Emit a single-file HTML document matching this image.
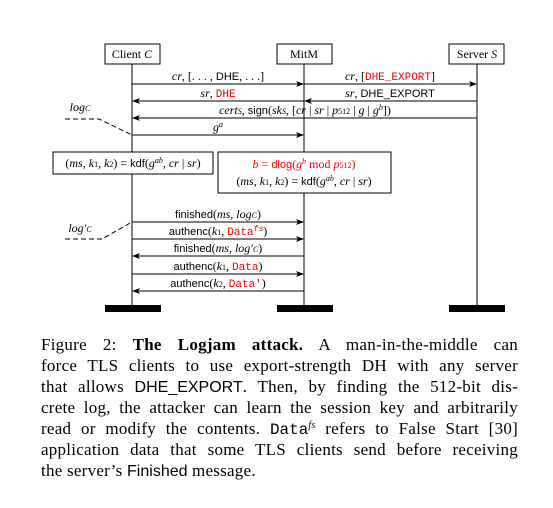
<!DOCTYPE html>
<html><head><meta charset="utf-8"><style>
body{margin:0;background:#fff;width:553px;height:508px;overflow:hidden;position:relative;font-family:"Liberation Serif",serif}
svg text{font-family:"Liberation Serif",serif;font-size:12px}
.sf{font-family:"Liberation Sans",sans-serif;font-size:11px}
.tt{font-family:"Liberation Mono",monospace;font-size:11px}
.r{fill:#e00}
.cap{position:absolute;left:41px;width:477px;height:21px;font-size:17px;letter-spacing:0.25px;line-height:21px;text-align:justify;text-align-last:justify;white-space:nowrap;color:#000}
.cap .sf,.cap .tt{font-size:16px;letter-spacing:0}
.sup{position:relative;top:-6px;font-size:10px;font-style:italic;line-height:0}
</style></head><body>
<svg width="553" height="320" style="position:absolute;left:0;top:0">
<defs><marker id="a" markerWidth="8" markerHeight="6" refX="7" refY="3" orient="auto"><path d="M0,0L8,3L0,6L2,3z" fill="#000"/></marker></defs>
<g stroke="#000" stroke-width="1" fill="none">
<line x1="132" y1="64" x2="132" y2="306"/><line x1="304" y1="64" x2="304" y2="306"/><line x1="477" y1="64" x2="477" y2="306"/>
<rect x="105" y="44" width="55" height="20" fill="#fff"/><rect x="277" y="44" width="55" height="20" fill="#fff"/><rect x="449" y="44" width="55" height="20" fill="#fff"/>
<g marker-end="url(#a)">
<line x1="132" y1="84" x2="303" y2="84"/><line x1="304" y1="84" x2="476" y2="84"/>
<line x1="304" y1="101" x2="133" y2="101"/><line x1="477" y1="101" x2="305" y2="101"/>
<line x1="477" y1="118" x2="133" y2="118"/><line x1="132" y1="135" x2="303" y2="135"/>
<line x1="132" y1="222" x2="303" y2="222"/><line x1="132" y1="239" x2="303" y2="239"/>
<line x1="304" y1="256" x2="133" y2="256"/><line x1="132" y1="274" x2="303" y2="274"/>
<line x1="304" y1="291" x2="133" y2="291"/></g>
<path d="M65,119H99L132,135" stroke-dasharray="5,3"/><path d="M65,239H102L132,222" stroke-dasharray="5,3"/>
<rect x="53" y="152" width="160" height="22" fill="#fff"/><rect x="218" y="152" width="173" height="41" fill="#fff"/>
</g>
<g fill="#000" stroke="none"><rect x="105" y="305" width="56" height="7"/><rect x="277" y="305" width="56" height="7"/><rect x="449" y="305" width="56" height="7"/></g>
<g text-anchor="middle">
<text x="132" y="58">Client <tspan font-style="italic">C</tspan></text>
<text x="304" y="58">MitM</text>
<text x="477" y="58">Server <tspan font-style="italic">S</tspan></text>
<text x="218" y="80"><tspan font-style="italic">cr</tspan>, [. . . , <tspan class="sf">DHE</tspan>, . . .]</text>
<text x="390" y="80"><tspan font-style="italic">cr</tspan>, [<tspan class="tt r">DHE_EXPORT</tspan>]</text>
<text x="218" y="97"><tspan font-style="italic">sr</tspan>, <tspan class="tt r">DHE</tspan></text>
<text x="390" y="97"><tspan font-style="italic">sr</tspan>, <tspan class="sf">DHE_EXPORT</tspan></text>
<text x="305" y="114"><tspan font-style="italic">cert<tspan font-size="8">S</tspan></tspan>, <tspan class="sf">sign</tspan>(<tspan font-style="italic">sk<tspan font-size="8">S</tspan></tspan>, [<tspan font-style="italic">cr</tspan> | <tspan font-style="italic">sr</tspan> | <tspan font-style="italic">p</tspan><tspan font-size="8">512</tspan> | <tspan font-style="italic">g</tspan> | <tspan font-style="italic">g<tspan font-size="8" dy="-4">b</tspan></tspan><tspan dy="4">])</tspan></text>
<text x="218" y="131" font-style="italic">g<tspan font-size="8" dy="-4">a</tspan></text>
<text x="133" y="167">(<tspan font-style="italic">ms, k</tspan><tspan font-size="8">1</tspan>, <tspan font-style="italic">k</tspan><tspan font-size="8">2</tspan>) = <tspan class="sf">kdf</tspan>(<tspan font-style="italic">g</tspan><tspan font-size="8" dy="-4" font-style="italic">ab</tspan><tspan dy="4">, </tspan><tspan font-style="italic">cr</tspan> | <tspan font-style="italic">sr</tspan>)</text>
<text x="304" y="168" class="r"><tspan font-style="italic">b</tspan> = <tspan class="sf">dlog</tspan>(<tspan font-style="italic">g</tspan><tspan font-size="8" dy="-4" font-style="italic">b</tspan><tspan dy="4"> mod </tspan><tspan font-style="italic">p</tspan><tspan font-size="8">512</tspan>)</text>
<text x="304" y="185">(<tspan font-style="italic">ms, k</tspan><tspan font-size="8">1</tspan>, <tspan font-style="italic">k</tspan><tspan font-size="8">2</tspan>) = <tspan class="sf">kdf</tspan>(<tspan font-style="italic">g</tspan><tspan font-size="8" dy="-4" font-style="italic">ab</tspan><tspan dy="4">, </tspan><tspan font-style="italic">cr</tspan> | <tspan font-style="italic">sr</tspan>)</text>
<text x="218" y="218"><tspan class="sf">finished</tspan>(<tspan font-style="italic">ms, log<tspan font-size="8">C</tspan></tspan>)</text>
<text x="218" y="235"><tspan class="sf">authenc</tspan>(<tspan font-style="italic">k</tspan><tspan font-size="8">1</tspan>, <tspan class="tt r">Data<tspan font-size="8" dy="-4" font-style="italic">fs</tspan></tspan><tspan dy="4">)</tspan></text>
<text x="218" y="252"><tspan class="sf">finished</tspan>(<tspan font-style="italic">ms, log′<tspan font-size="8">C</tspan></tspan>)</text>
<text x="218" y="270"><tspan class="sf">authenc</tspan>(<tspan font-style="italic">k</tspan><tspan font-size="8">1</tspan>, <tspan class="tt r">Data</tspan>)</text>
<text x="218" y="287"><tspan class="sf">authenc</tspan>(<tspan font-style="italic">k</tspan><tspan font-size="8">2</tspan>, <tspan class="tt r">Data′</tspan>)</text>
<text x="80" y="111" font-style="italic">log<tspan font-size="8">C</tspan></text>
<text x="80" y="232" font-style="italic">log′<tspan font-size="8">C</tspan></text>
</g>
</svg>
<div>
<div class="cap" style="top:334px">Figure 2: <b>The Logjam attack.</b> A man-in-the-middle can</div>
<div class="cap" style="top:355px">force TLS clients to use export-strength DH with any server</div>
<div class="cap" style="top:376px">that allows <span class="sf">DHE_EXPORT</span>. Then, by finding the 512-bit dis-</div>
<div class="cap" style="top:397px">crete log, the attacker can learn the session key and arbitrarily</div>
<div class="cap" style="top:418px">read or modify the contents. <span class="tt">Data</span><span class="sup">fs</span> refers to False Start [30]</div>
<div class="cap" style="top:439px">application data that some TLS clients send before receiving</div>
<div class="cap" style="top:460px;text-align-last:left">the server’s <span class="sf">Finished</span> message.</div>
</div>
</body></html>
